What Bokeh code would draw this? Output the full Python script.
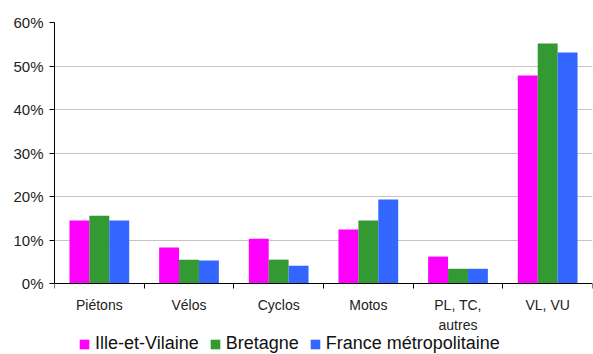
from bokeh.plotting import figure
from bokeh.models import (ColumnDataSource, Range1d, FixedTicker, PrintfTickFormatter,
                          Legend, LegendItem)
from bokeh.transform import dodge
from bokeh.embed import file_html
from bokeh.resources import INLINE

categories = ["Piétons", "Vélos", "Cyclos", "Motos", "PL, TC,\nautres", "VL, VU"]
series_names = ["Ille-et-Vilaine", "Bretagne", "France métropolitaine"]
ille_et_vilaine = [14.5, 8.3, 10.3, 12.4, 6.2, 47.8]
bretagne = [15.6, 5.5, 5.5, 14.5, 3.4, 55.2]
france = [14.5, 5.3, 4.1, 19.3, 3.4, 53.1]
y_ticks = [0, 10, 20, 30, 40, 50, 60]

colors = ["#FF00FF", "#339933", "#3366FF"]
FONT = "Liberation Sans"

idx = [i + 0.5 for i in range(len(categories))]
src = ColumnDataSource(dict(x=idx, a=ille_et_vilaine, b=bretagne, c=france))

# frame extends below the zero line so that category labels and legend live inside it
p = figure(frame_width=538, frame_height=332, output_backend="svg", toolbar_location=None,
           x_range=Range1d(0, len(categories)), y_range=Range1d(-16.3, 60),
           min_border_left=54, min_border_right=1, min_border_top=22, min_border_bottom=0)
p.outline_line_color = None
p.background_fill_color = "white"
p.border_fill_color = "white"

bw = 0.222
renderers = []
for col, off, color in zip(["a", "b", "c"], [-bw, 0, bw], colors):
    r = p.vbar(x=dodge("x", off), top=col, width=bw, bottom=0, source=src,
               fill_color=color, line_color=None)
    renderers.append(r)

p.xgrid.grid_line_color = None
p.ygrid.grid_line_color = "#c4c4c4"
p.ygrid.grid_line_width = 1
p.ygrid.ticker = FixedTicker(ticks=y_ticks[1:])

p.yaxis.ticker = FixedTicker(ticks=y_ticks)
p.yaxis.bounds = (y_ticks[0], y_ticks[-1])
p.yaxis.formatter = PrintfTickFormatter(format="%d%%")
p.yaxis.major_tick_in = 0
p.yaxis.major_tick_out = 5
p.yaxis.minor_tick_line_color = None
p.yaxis.major_label_standoff = 6
p.yaxis.major_label_text_font = FONT
p.yaxis.major_label_text_font_size = "15px"
p.yaxis.major_label_text_color = "#222222"
p.yaxis.axis_line_color = "black"

p.xaxis.fixed_location = 0
p.xaxis.ticker = FixedTicker(ticks=idx, minor_ticks=list(range(len(categories) + 1)))
p.xaxis.major_label_overrides = {x: c for x, c in zip(idx, categories)}
p.xaxis.major_tick_line_color = None
p.xaxis.minor_tick_in = 0
p.xaxis.minor_tick_out = 5
p.xaxis.minor_tick_line_color = "black"
p.xaxis.major_label_standoff = 7
p.xaxis.major_label_text_font = FONT
p.xaxis.major_label_text_font_size = "14px"
p.xaxis.major_label_text_line_height = 1.3
p.xaxis.major_label_text_color = "#222222"
p.xaxis.axis_line_color = "black"

legend = Legend(items=[LegendItem(label=n, renderers=[r]) for n, r in zip(series_names, renderers)],
                orientation="horizontal", location=(24, 0))
legend.glyph_width = 12
legend.glyph_height = 12
legend.label_height = 14
legend.label_standoff = 5
legend.spacing = 10
legend.padding = 0
legend.margin = 0
legend.border_line_color = None
legend.background_fill_alpha = 0
legend.label_text_font = FONT
legend.label_text_font_size = "18px"
legend.label_text_color = "#111111"
p.add_layout(legend, "center")

open("out.html", "w").write(file_html(p, INLINE))
